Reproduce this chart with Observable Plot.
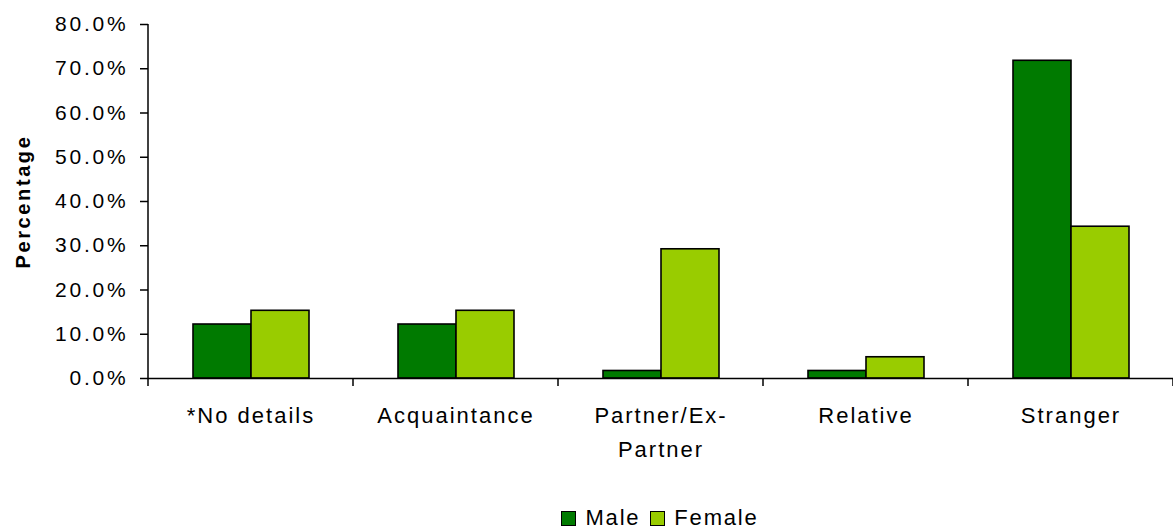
<!DOCTYPE html>
<html>
<head>
<meta charset="utf-8">
<script src="https://cdn.jsdelivr.net/npm/d3@7"></script>
<script src="https://cdn.jsdelivr.net/npm/@observablehq/plot@0.6"></script>
<style>
  html, body { margin: 0; padding: 0; background: #fff; overflow: hidden; }
  #chart svg { display: block; }
  #chart svg text { letter-spacing: 2px; }
  #chart g[aria-label="y-axis tick label"] text { letter-spacing: 2.8px; }
  #chart g[aria-label="y-axis label"] text { font-weight: bold; font-size: 20px; letter-spacing: 2.6px; }
  #legend {
    height: 24px; line-height: 24px; padding-left: 147px; width: 1026px; padding-top: 2px;
    display: flex; justify-content: center; align-items: center;
    font-family: "Liberation Sans", Arial, sans-serif; font-size: 22px; letter-spacing: 1.8px; color: #000;
  }
  .sw { display: inline-block; width: 13px; height: 13px; border: 1.5px solid #000; margin-right: 9px; }
  .item { display: flex; align-items: center; margin: 0 5px; }
</style>
</head>
<body>
<div id="chart"></div>
<div id="legend"></div>
<script>
const categories = ["*No details", "Acquaintance", "Partner/Ex-Partner", "Relative", "Stranger"];
const categoryLabels = ["*No details", "Acquaintance", "Partner/Ex-\nPartner", "Relative", "Stranger"];
const series = ["Male", "Female"];
const maleValues = [12.2, 12.2, 1.7, 1.7, 71.8];
const femaleValues = [15.3, 15.3, 29.2, 4.8, 34.3];
const seriesColors = ["#007A00", "#99CC00"];
const yTicks = [0, 0.1, 0.2, 0.3, 0.4, 0.5, 0.6, 0.7, 0.8];

const data = categories.flatMap((c, i) => [
  {cat: c, sex: "Male", value: maleValues[i] / 100},
  {cat: c, sex: "Female", value: femaleValues[i] / 100}
]);

// y-axis line and category-boundary ticks, drawn once over the whole plot
const boundaryTicks = (index, scales, values, dims) => {
  const g = d3.create("svg:g").attr("stroke", "#000").attr("stroke-width", 1.5).attr("fill", "none");
  const y0 = scales.y(0), yTop = scales.y(yTicks[yTicks.length - 1]);
  g.append("line").attr("x1", dims.marginLeft).attr("x2", dims.marginLeft).attr("y1", yTop).attr("y2", y0);
  const inner = dims.width - dims.marginLeft - dims.marginRight;
  const fx = scales.fx;
  const bw = fx && fx.bandwidth ? fx.bandwidth() : inner / categories.length;
  const lefts = categories.map((c, i) => fx ? fx(c) : dims.marginLeft + i * bw);
  const xs = [...lefts, lefts[lefts.length - 1] + bw];
  for (const x of xs) {
    g.append("line").attr("x1", x).attr("x2", x).attr("y1", y0).attr("y2", y0 + 8);
  }
  return g.node();
};

const chart = Plot.plot({
  width: 1173,
  height: 504,
  marginTop: 24,
  marginBottom: 126,
  marginLeft: 147,
  marginRight: 0,
  style: {fontFamily: "'Liberation Sans', Arial, sans-serif", fontSize: "21px", color: "#000", background: "#fff"},
  fx: {domain: categories, padding: 0, label: null, axis: null},
  x: {domain: series, paddingInner: 0, paddingOuter: 0.74, axis: null},
  y: {domain: [0, 0.8], axis: null},
  color: {domain: series, range: seriesColors},
  marks: [
    Plot.barY(data, {fx: "cat", x: "sex", y: "value", fill: "sex", stroke: "#000", strokeWidth: 1.6, inset: 0}),
    Plot.ruleY([0], {stroke: "#000", strokeWidth: 1.5}),
    Plot.axisY({
      ticks: yTicks, tickFormat: d3.format(".1%"), tickSize: 8, tickPadding: 12,
      label: "Percentage", labelAnchor: "center", labelArrow: "none", labelOffset: 133,
      fontSize: 21, stroke: "#000", strokeWidth: 1.5
    }),
    Plot.axisFx({
      anchor: "bottom", tickSize: 0, tickPadding: 21, label: null, fontSize: 22, lineHeight: 1.52,
      tickFormat: d => categoryLabels[categories.indexOf(d)]
    }),
    Plot.frame({facet: "super", render: boundaryTicks})
  ]
});
document.getElementById("chart").append(chart);

const legend = document.getElementById("legend");
series.forEach((s, i) => {
  const item = document.createElement("span");
  item.className = "item";
  const sw = document.createElement("span");
  sw.className = "sw";
  sw.style.background = seriesColors[i];
  item.append(sw, document.createTextNode(s));
  legend.append(item);
});
</script>
</body>
</html>
